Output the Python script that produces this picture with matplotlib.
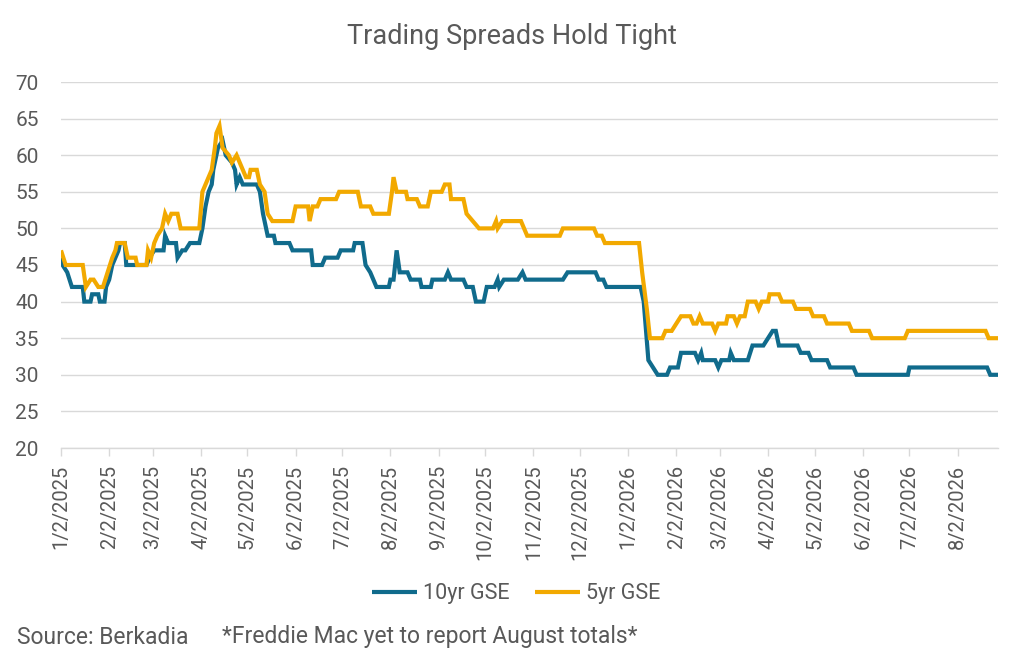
import matplotlib
matplotlib.use("Agg")
import matplotlib.pyplot as plt
import matplotlib.dates as mdates
import pandas as pd

# ---------------- data ----------------
dates_10yr = [
    "2025-01-02", "2025-01-03", "2025-01-06", "2025-01-09", "2025-01-16", "2025-01-17",
    "2025-01-21", "2025-01-22", "2025-01-26", "2025-01-27", "2025-01-30", "2025-01-31",
    "2025-02-02", "2025-02-04", "2025-02-06", "2025-02-08", "2025-02-09", "2025-02-12",
    "2025-02-13", "2025-02-26", "2025-02-28", "2025-03-03", "2025-03-09", "2025-03-10",
    "2025-03-12", "2025-03-17", "2025-03-18", "2025-03-21", "2025-03-23", "2025-03-26",
    "2025-04-01", "2025-04-03", "2025-04-05", "2025-04-07", "2025-04-09", "2025-04-10",
    "2025-04-13", "2025-04-16", "2025-04-18", "2025-04-22", "2025-04-24", "2025-04-25",
    "2025-04-27", "2025-04-29", "2025-05-08", "2025-05-10", "2025-05-12", "2025-05-15",
    "2025-05-19", "2025-05-20", "2025-05-29", "2025-05-31", "2025-06-12", "2025-06-13",
    "2025-06-19", "2025-06-21", "2025-06-29", "2025-07-01", "2025-07-09", "2025-07-10",
    "2025-07-15", "2025-07-17", "2025-07-20", "2025-07-24", "2025-08-01", "2025-08-02",
    "2025-08-04", "2025-08-06", "2025-08-08", "2025-08-13", "2025-08-15", "2025-08-21",
    "2025-08-22", "2025-08-28", "2025-08-29", "2025-09-06", "2025-09-08", "2025-09-10",
    "2025-09-18", "2025-09-20", "2025-09-24", "2025-09-26", "2025-10-01", "2025-10-03",
    "2025-10-08", "2025-10-10", "2025-10-11", "2025-10-14", "2025-10-23", "2025-10-26",
    "2025-10-28", "2025-11-21", "2025-11-24", "2025-12-12", "2025-12-14", "2025-12-17",
    "2025-12-19", "2026-01-10", "2026-01-12", "2026-01-15", "2026-01-18", "2026-01-21",
    "2026-01-27", "2026-01-29", "2026-02-03", "2026-02-05", "2026-02-14", "2026-02-16",
    "2026-02-18", "2026-02-19", "2026-02-27", "2026-03-01", "2026-03-03", "2026-03-08",
    "2026-03-09", "2026-03-11", "2026-03-20", "2026-03-23", "2026-03-30", "2026-04-02",
    "2026-04-05", "2026-04-07", "2026-04-09", "2026-04-21", "2026-04-23", "2026-04-28",
    "2026-04-30", "2026-05-10", "2026-05-12", "2026-05-27", "2026-05-29", "2026-07-01",
    "2026-07-02", "2026-08-21", "2026-08-23", "2026-08-28",
]
values_10yr = [
    46, 45, 44, 42, 42, 40,
    40, 41, 41, 40, 40, 42,
    43, 45, 46, 47, 48, 48,
    45, 45, 46, 47, 47, 49,
    48, 48, 46, 47, 47, 48,
    48, 50, 53, 55, 56, 58,
    61, 62, 60, 59, 58, 56,
    57, 56, 56, 55, 52, 49,
    49, 48, 48, 47, 47, 45,
    45, 46, 46, 47, 47, 48,
    48, 45, 44, 42, 42, 43,
    43, 47, 44, 44, 43, 43,
    42, 42, 43, 43, 44, 43,
    43, 42, 42, 40, 40, 42,
    42, 43, 42, 43, 43, 44,
    43, 43, 44, 44, 43, 43,
    42, 42, 40, 32, 31, 30,
    30, 31, 31, 33, 33, 32,
    33, 32, 32, 31, 32, 32,
    33, 32, 32, 34, 34, 35,
    36, 36, 34, 34, 33, 33,
    32, 32, 31, 31, 30, 30,
    31, 31, 30, 30,
]

dates_5yr = [
    "2025-01-02", "2025-01-05", "2025-01-16", "2025-01-18", "2025-01-21", "2025-01-23",
    "2025-01-26", "2025-01-29", "2025-02-01", "2025-02-04", "2025-02-06", "2025-02-07",
    "2025-02-12", "2025-02-14", "2025-02-19", "2025-02-20", "2025-02-26", "2025-02-27",
    "2025-03-01", "2025-03-03", "2025-03-05", "2025-03-08", "2025-03-10", "2025-03-12",
    "2025-03-14", "2025-03-18", "2025-03-20", "2025-04-01", "2025-04-03", "2025-04-05",
    "2025-04-07", "2025-04-09", "2025-04-11", "2025-04-12", "2025-04-14", "2025-04-16",
    "2025-04-20", "2025-04-22", "2025-04-25", "2025-04-27", "2025-04-29", "2025-05-01",
    "2025-05-03", "2025-05-04", "2025-05-08", "2025-05-10", "2025-05-13", "2025-05-15",
    "2025-05-18", "2025-05-31", "2025-06-02", "2025-06-10", "2025-06-11", "2025-06-13",
    "2025-06-16", "2025-06-18", "2025-06-28", "2025-06-30", "2025-07-12", "2025-07-14",
    "2025-07-20", "2025-07-22", "2025-08-01", "2025-08-03", "2025-08-04", "2025-08-06",
    "2025-08-12", "2025-08-13", "2025-08-19", "2025-08-21", "2025-08-26", "2025-08-28",
    "2025-09-04", "2025-09-06", "2025-09-09", "2025-09-10", "2025-09-18", "2025-09-20",
    "2025-09-24", "2025-09-28", "2025-10-07", "2025-10-09", "2025-10-10", "2025-10-13",
    "2025-10-25", "2025-10-27", "2025-10-29", "2025-11-19", "2025-11-21", "2025-12-11",
    "2025-12-13", "2025-12-16", "2025-12-18", "2026-01-09", "2026-01-11", "2026-01-14",
    "2026-01-16", "2026-01-24", "2026-01-26", "2026-01-30", "2026-02-02", "2026-02-05",
    "2026-02-11", "2026-02-13", "2026-02-15", "2026-02-17", "2026-02-19", "2026-02-25",
    "2026-02-27", "2026-03-01", "2026-03-06", "2026-03-07", "2026-03-11", "2026-03-13",
    "2026-03-15", "2026-03-18", "2026-03-20", "2026-03-25", "2026-03-27", "2026-03-29",
    "2026-04-02", "2026-04-03", "2026-04-09", "2026-04-11", "2026-04-18", "2026-04-20",
    "2026-04-29", "2026-05-01", "2026-05-08", "2026-05-10", "2026-05-24", "2026-05-26",
    "2026-06-06", "2026-06-08", "2026-06-29", "2026-07-01", "2026-08-20", "2026-08-22",
    "2026-08-28",
]
values_5yr = [
    47, 45, 45, 42, 43, 43,
    42, 42, 44, 46, 47, 48,
    48, 46, 46, 45, 45, 47,
    46, 48, 49, 50, 52, 51,
    52, 52, 50, 50, 55, 56,
    57, 58, 61, 63, 64, 61,
    60, 59, 60, 59, 58, 57,
    57, 58, 58, 56, 55, 52,
    51, 51, 53, 53, 51, 53,
    53, 54, 54, 55, 55, 53,
    53, 52, 52, 55, 57, 55,
    55, 54, 54, 53, 53, 55,
    55, 56, 56, 54, 54, 52,
    51, 50, 50, 51, 50, 51,
    51, 50, 49, 49, 50, 50,
    49, 49, 48, 48, 44, 39,
    35, 35, 36, 36, 37, 38,
    38, 37, 37, 38, 37, 37,
    36, 37, 37, 38, 38, 37,
    38, 38, 40, 40, 39, 40,
    40, 41, 41, 40, 40, 39,
    39, 38, 38, 37, 37, 36,
    36, 35, 35, 36, 36, 35,
    35,
]

tick_dates = [
    "2025-01-02", "2025-02-02", "2025-03-02", "2025-04-02", "2025-05-02", "2025-06-02",
    "2025-07-02", "2025-08-02", "2025-09-02", "2025-10-02", "2025-11-02", "2025-12-02",
    "2026-01-02", "2026-02-02", "2026-03-02", "2026-04-02", "2026-05-02", "2026-06-02",
    "2026-07-02", "2026-08-02",
]
tick_labels = [
    "1/2/2025", "2/2/2025", "3/2/2025", "4/2/2025", "5/2/2025", "6/2/2025",
    "7/2/2025", "8/2/2025", "9/2/2025", "10/2/2025", "11/2/2025", "12/2/2025",
    "1/2/2026", "2/2/2026", "3/2/2026", "4/2/2026", "5/2/2026", "6/2/2026",
    "7/2/2026", "8/2/2026",
]
y_ticks = [20, 25, 30, 35, 40, 45, 50, 55, 60, 65, 70]

title = "Trading Spreads Hold Tight"
series_names = ["10yr GSE", "5yr GSE"]
source_note = "Source: Berkadia"
footnote = "*Freddie Mac yet to report August totals*"

# ---------------- style ----------------
BLUE = "#106B8C"
ORANGE = "#F2A900"
TEXT = "#595959"
GRID = "#D9D9D9"

plt.rcParams["font.family"] = ["Roboto", "DejaVu Sans"]

fig = plt.figure(figsize=(10.24, 6.61), dpi=100)
ax = fig.add_axes([61 / 1024, 1 - 448 / 661, (998 - 61) / 1024, (448 - 82) / 661])

x10 = pd.to_datetime(dates_10yr)
x5 = pd.to_datetime(dates_5yr)
ax.plot(x10, values_10yr, color=BLUE, lw=3.0, solid_joinstyle="miter",
        solid_capstyle="butt", label=series_names[0], zorder=3)
ax.plot(x5, values_5yr, color=ORANGE, lw=3.0, solid_joinstyle="miter",
        solid_capstyle="butt", label=series_names[1], zorder=4)

ax.set_xlim(pd.Timestamp(dates_10yr[0]), pd.Timestamp(dates_10yr[-1]))
ax.set_ylim(20, 70)
ax.set_yticks(y_ticks)
ax.set_yticklabels([str(v) for v in y_ticks])
ax.set_xticks(pd.to_datetime(tick_dates))
ax.set_xticklabels(tick_labels, rotation=90)

ax.grid(axis="y", color=GRID, lw=1.0)
ax.set_axisbelow(True)
for s in ["top", "right", "left"]:
    ax.spines[s].set_visible(False)
ax.spines["bottom"].set_color(GRID)
ax.spines["bottom"].set_linewidth(1.0)

ax.tick_params(axis="y", length=0, pad=16, labelsize=15, labelcolor=TEXT)
ax.tick_params(axis="x", length=6, width=1, color=GRID, pad=6,
               labelsize=14.5, labelcolor=TEXT)

fig.text(512 / 1024, 1 - 44 / 661, title, ha="center", va="baseline",
         fontsize=19.5, color=TEXT)

leg = fig.legend(loc="center", bbox_to_anchor=(516 / 1024, 1 - 594 / 661),
                 ncol=2, frameon=False, fontsize=15.5, handlelength=2.1,
                 handletextpad=0.25, columnspacing=1.2, labelcolor=TEXT)

fig.text(17 / 1024, 1 - 637 / 661, source_note, ha="left", va="center",
         fontsize=16.5, color=TEXT)
fig.text(222 / 1024, 1 - 637 / 661, footnote, ha="left", va="center",
         fontsize=16.5, color=TEXT)

fig.savefig("out.png", dpi=100, facecolor="white")
